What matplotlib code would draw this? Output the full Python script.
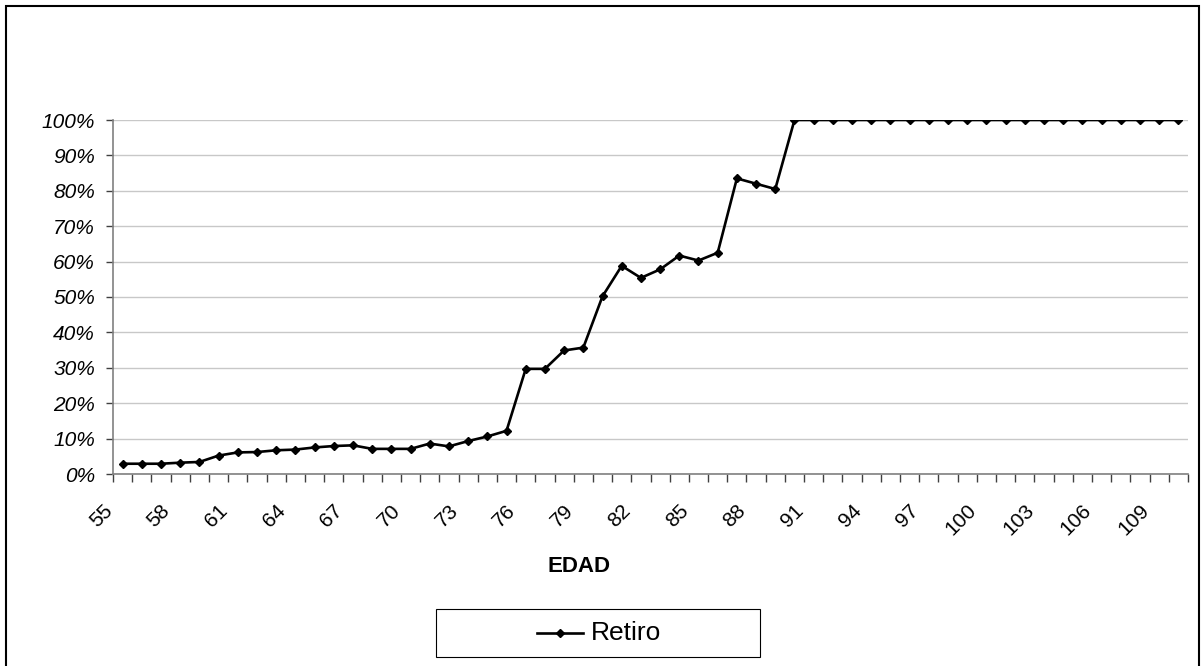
import matplotlib
matplotlib.use("Agg")
import matplotlib.pyplot as plt
import matplotlib.transforms as mtransforms
from matplotlib.patches import Rectangle
from matplotlib.lines import Line2D
from matplotlib.ticker import FixedLocator, PercentFormatter

plt.rcParams['font.family'] = ['Liberation Sans', 'DejaVu Sans']

# edades 55..110 y probabilidad de retiro (%)
edades = list(range(55, 111))
retiro = [2.9, 2.9, 2.9, 3.2, 3.4, 5.2, 6.1, 6.2, 6.7, 6.9,
          7.5, 7.9, 8.1, 7.1, 7.1, 7.1, 8.6, 7.8, 9.3, 10.6,
          12.2, 29.7, 29.7, 34.9, 35.7, 50.2, 58.8, 55.4, 57.8, 61.7,
          60.3, 62.5, 83.5, 82.0, 80.5] + [100.0] * 21
etiquetas = [str(e) for e in edades[::3]]

W, H = 1204, 666
fig = plt.figure(figsize=(W / 100, H / 100), dpi=100)
fig.patch.set_facecolor('white')

def fx(px):
    return px / W

def fy(py):
    return 1 - py / H

ax = fig.add_axes([fx(113), fy(474), fx(1188) - fx(113), fy(120) - fy(474)])

x = list(range(len(edades)))
ax.plot(x, [v / 100 for v in retiro], color='black', lw=1.9,
        marker='D', markersize=4, markerfacecolor='black', markeredgecolor='black')

ax.set_xlim(-0.5, len(edades) - 0.5)
ax.set_ylim(0, 1)

# eje y
ax.set_yticks([i / 10 for i in range(11)])
ax.yaxis.set_major_formatter(PercentFormatter(1.0, decimals=0))
ax.tick_params(axis='y', length=5, width=1, color='#404040', pad=8,
               labelsize=15, direction='out')
for t in ax.get_yticklabels():
    t.set_fontstyle('italic')
ax.grid(axis='y', color='#c8c8c8', lw=1)
ax.set_axisbelow(True)

# eje x: marcas entre categorias, etiquetas cada 3
ax.xaxis.set_minor_locator(FixedLocator([i - 0.5 for i in range(len(edades) + 1)]))
ax.set_xticks(x[::3])
ax.set_xticklabels(etiquetas)
ax.tick_params(axis='x', which='major', length=0, pad=24, labelsize=15)
ax.tick_params(axis='x', which='minor', length=6, width=1, color='#404040', direction='out')
offset = mtransforms.ScaledTranslation(-13 / 100, 0, fig.dpi_scale_trans)
for t in ax.get_xticklabels():
    t.set_rotation(45)
    t.set_ha('right')
    t.set_va('center')
    t.set_rotation_mode('anchor')
    t.set_transform(t.get_transform() + offset)

for s in ['top', 'right']:
    ax.spines[s].set_visible(False)
for s in ['left', 'bottom']:
    ax.spines[s].set_color('#808080')
    ax.spines[s].set_linewidth(1.2)

fig.text(fx(579), fy(566), 'EDAD', ha='center', va='center',
         fontsize=16, fontweight='bold')

# leyenda
fig.patches.append(Rectangle((fx(436), fy(657)), fx(760) - fx(436), fy(609) - fy(657),
                             transform=fig.transFigure, fill=False,
                             edgecolor='black', lw=0.8))
fig.lines.append(Line2D([fx(537), fx(583)], [fy(633), fy(633)], transform=fig.transFigure,
                        color='black', lw=1.9))
fig.lines.append(Line2D([fx(560)], [fy(633)], transform=fig.transFigure,
                        color='black', marker='D', markersize=4, ls='none'))
fig.text(fx(591), fy(633), 'Retiro', ha='left', va='center', fontsize=19)

# borde del area del grafico
fig.patches.append(Rectangle((fx(6), fy(700)), fx(1199) - fx(6), fy(6) - fy(700),
                             transform=fig.transFigure, fill=False,
                             edgecolor='black', lw=1.5))

fig.savefig('out.png', dpi=100)
